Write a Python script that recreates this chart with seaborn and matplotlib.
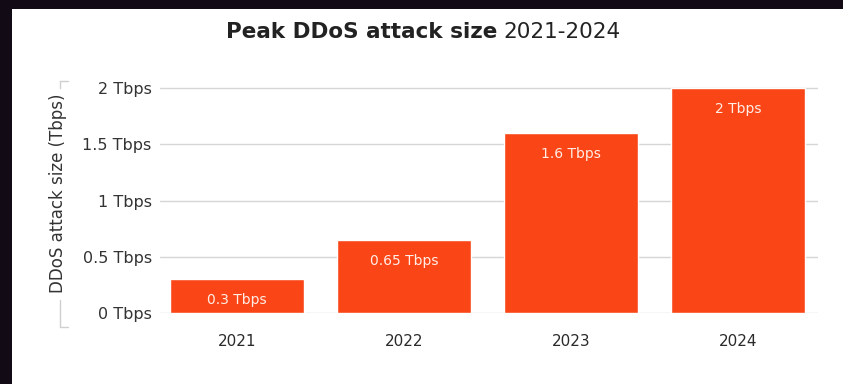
import matplotlib
matplotlib.use("Agg")
import matplotlib.pyplot as plt
from matplotlib.lines import Line2D
from matplotlib.patches import Rectangle
import seaborn as sns

years = ["2021", "2022", "2023", "2024"]
peak_tbps = [0.3, 0.65, 1.6, 2.0]
bar_labels = ["0.3 Tbps", "0.65 Tbps", "1.6 Tbps", "2 Tbps"]
y_ticks = [0, 0.5, 1, 1.5, 2]
y_ticklabels = ["0 Tbps", "0.5 Tbps", "1 Tbps", "1.5 Tbps", "2 Tbps"]

sns.set_theme(style="white")
plt.rcParams['font.family'] = ['DejaVu Sans']

W, H = 843, 384
fig = plt.figure(figsize=(W / 100, H / 100), dpi=100)
fig.patch.set_facecolor("#120b15")
# white card, dark strip on top and left
card = Rectangle((12 / W, 0), 1, (H - 9) / H, transform=fig.transFigure,
                 facecolor="white", edgecolor="none", zorder=-5)
fig.add_artist(card)

ax = fig.add_axes([160 / W, 1 - 313 / H, (818 - 160) / W, (313 - 85.75) / H])
ax.set_facecolor("none")

sns.barplot(x=years, y=peak_tbps, color="#FA4617", saturation=1, width=0.8, ax=ax, zorder=2)

ax.set_xlim(-0.46, 3.48)
ax.set_ylim(0, 2.02)
ax.set_yticks(y_ticks)
ax.set_yticklabels(y_ticklabels)
ax.yaxis.grid(True, color="#d6d6d6", lw=1)
ax.set_axisbelow(True)
for s in ax.spines.values():
    s.set_visible(False)
ax.tick_params(axis="y", length=0, pad=6, labelsize=11.5, labelcolor="#333333")
ax.tick_params(axis="x", length=0, pad=15, labelsize=11, labelcolor="#2a2a2a")
ax.set_xlabel("")

for i, (v, lab) in enumerate(zip(peak_tbps, bar_labels)):
    ax.annotate(lab, (i, v), xytext=(0, -15), textcoords="offset points",
                ha="center", va="center", color="#FFEDE5", fontsize=10)

# y-axis label with bracket
fig.text(58 / W, 1 - 193 / H, "DDoS attack size (Tbps)", rotation=90,
         ha="center", va="center", fontsize=12, color="#333333")
bc = "#cfcfcf"
for xs, ys in [([60, 60], [81, 88]), ([60, 68], [81, 81]),
               ([60, 60], [300, 327]), ([60, 68], [327, 327])]:
    fig.lines.append(Line2D([x / W for x in xs], [1 - y / H for y in ys],
                            transform=fig.transFigure, color=bc, lw=1))

# title: bold part + regular part
t1 = fig.text(226 / W, 1 - 32 / H, "Peak DDoS attack size", fontsize=15.5,
              weight="bold", color="#222222", ha="left", va="center")
fig.canvas.draw()
bb = t1.get_window_extent(renderer=fig.canvas.get_renderer())
fig.text(bb.x1 / W + 6 / W, 1 - 32 / H, "2021-2024", fontsize=15.5,
         color="#222222", ha="left", va="center")

fig.savefig("out.png", dpi=100)
